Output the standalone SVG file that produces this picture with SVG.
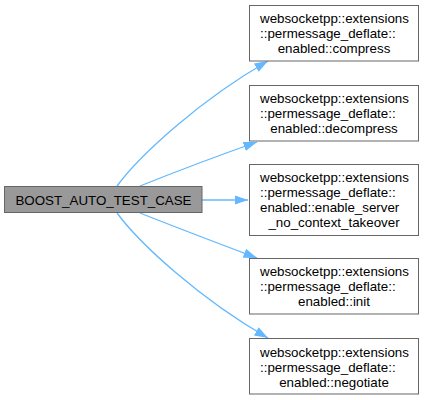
<svg xmlns="http://www.w3.org/2000/svg" width="424" height="400" viewBox="0 0 424 400">
<style>
.n rect{fill:#ffffff;stroke:#666666;stroke-width:1}
#main rect{fill:#999999}
text{font-family:"Liberation Sans",Arial,Helvetica,sans-serif;font-size:13.33px;fill:#000000}
.s{text-anchor:start}
.m{text-anchor:middle}
.e{fill:none;stroke:#63b8ff;stroke-width:1.3;marker-end:url(#ah)}
</style>
<defs>
<marker id="ah" markerUnits="userSpaceOnUse" markerWidth="15" markerHeight="11" refX="13.5" refY="4.75" orient="auto" viewBox="0 0 15 11">
<path d="M0,0 L13.5,4.75 L0,9.5 z" fill="#63b8ff"/>
</marker>
</defs>
<rect width="424" height="400" fill="#ffffff"/>
<g id="edges">
<path class="e" d="M117,186 C140,155 200,100 268,61"/>
<path class="e" d="M140,186 C175,172 220,155 257,142"/>
<path class="e" d="M202,200 L248,200"/>
<path class="e" d="M140,213 C175,227 220,244 257,258"/>
<path class="e" d="M117,213 C140,244 200,299 268,338"/>
</g>
<g id="main" class="n">
<rect x="4.5" y="186.5" width="197.5" height="26"/>
<text class="m" x="103.5" y="204.7">BOOST_AUTO_TEST_CASE</text>
</g>
<g id="compress" class="n">
<rect x="249.5" y="5.5" width="169" height="55.5"/>
<text class="s" x="260" y="23.3">websocketpp::extensions</text>
<text class="s" x="260" y="38.3">::permessage_deflate::</text>
<text class="m" x="334" y="53.3">enabled::compress</text>
</g>
<g id="decompress" class="n">
<rect x="249.5" y="85.5" width="169" height="55.5"/>
<text class="s" x="260" y="103.3">websocketpp::extensions</text>
<text class="s" x="260" y="118.3">::permessage_deflate::</text>
<text class="m" x="334" y="133.3">enabled::decompress</text>
</g>
<g id="enable_server" class="n">
<rect x="249.5" y="164.5" width="169" height="71"/>
<text class="s" x="260" y="182.3">websocketpp::extensions</text>
<text class="s" x="260" y="197.3">::permessage_deflate::</text>
<text class="s" x="260" y="212.3">enabled::enable_server</text>
<text class="m" x="334" y="227.3">_no_context_takeover</text>
</g>
<g id="init" class="n">
<rect x="249.5" y="258.5" width="169" height="55.5"/>
<text class="s" x="260" y="276.3">websocketpp::extensions</text>
<text class="s" x="260" y="291.3">::permessage_deflate::</text>
<text class="m" x="334" y="306.3">enabled::init</text>
</g>
<g id="negotiate" class="n">
<rect x="249.5" y="338.5" width="169" height="55.5"/>
<text class="s" x="260" y="356.6">websocketpp::extensions</text>
<text class="s" x="260" y="371.6">::permessage_deflate::</text>
<text class="m" x="334" y="386.6">enabled::negotiate</text>
</g>
</svg>
